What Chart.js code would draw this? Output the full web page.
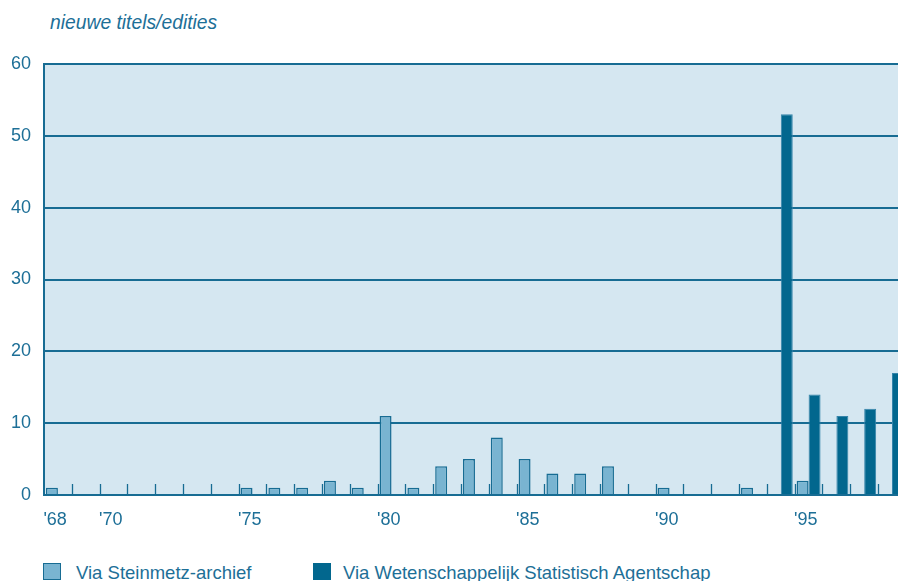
<!DOCTYPE html>
<html>
<head>
<meta charset="utf-8">
<script src="https://cdn.jsdelivr.net/npm/chart.js"></script>
<style>
  html, body { margin: 0; padding: 0; background: #ffffff; overflow: hidden; width: 898px; height: 581px; }
  body { position: relative; font-family: "Liberation Sans", Arial, sans-serif; color: #1d6f97; }
  #title { position: absolute; left: 50px; top: 13px; font-size: 19.3px; line-height: 19px; font-style: italic; white-space: nowrap; }
  #wrap { position: absolute; left: 0; top: 0; width: 906px; height: 545px; }
  .legend-box { position: absolute; top: 563px; width: 18px; height: 17px; box-sizing: border-box; }
  .legend-text { position: absolute; top: 563.5px; font-size: 18.5px; line-height: 18px; white-space: nowrap; }
</style>
</head>
<body>
<div id="title">nieuwe titels/edities</div>
<div id="wrap"><canvas id="chart"></canvas></div>
<div class="legend-box" id="box1" style="left:43px"></div>
<div class="legend-text" id="txt1" style="left:76px"></div>
<div class="legend-box" id="box2" style="left:313px"></div>
<div class="legend-text" id="txt2" style="left:343px"></div>
<script>
// years shown on the x axis (one bar group per year)
const years = [1968, 1969, 1970, 1971, 1972, 1973, 1974, 1975, 1976, 1977,
               1978, 1979, 1980, 1981, 1982, 1983, 1984, 1985, 1986, 1987,
               1988, 1989, 1990, 1991, 1992, 1993, 1994, 1995, 1996, 1997, 1998];
const xTickLabels = ["'68", '', "'70", '', '', '', '', "'75", '', '',
                     '', '', "'80", '', '', '', '', "'85", '', '',
                     '', '', "'90", '', '', '', '', "'95", '', '', ''];

const seriesNames = ['Via Steinmetz-archief', 'Via Wetenschappelijk Statistisch Agentschap'];
const steinmetz = [1, 0, 0, 0, 0, 0, 0, 1, 1, 1,
                   2, 1, 11, 1, 4, 5, 8, 5, 3, 3,
                   4, 0, 1, 0, 0, 1, 0, 2, 0, 0, 0];
const wsa = [0, 0, 0, 0, 0, 0, 0, 0, 0, 0,
             0, 0, 0, 0, 0, 0, 0, 0, 0, 0,
             0, 0, 0, 0, 0, 0, 53, 14, 11, 12, 17];

const yTicks = [0, 10, 20, 30, 40, 50, 60];

const lineColor = '#176c93';
const textColor = '#1d6f97';
const plotBg = '#d5e7f1';
const lightFill = '#79b4d1';
const darkFill = '#02678e';

document.getElementById('txt1').textContent = seriesNames[0];
document.getElementById('txt2').textContent = seriesNames[1];
document.getElementById('box1').style.cssText += ';background:' + lightFill + ';border:1.5px solid ' + lineColor;
document.getElementById('box2').style.cssText += ';background:' + darkFill;

// paint the plot area background
const plotBackground = {
  id: 'plotBackground',
  beforeDraw(chart) {
    const { ctx, chartArea } = chart;
    ctx.save();
    ctx.fillStyle = plotBg;
    ctx.fillRect(chartArea.left, chartArea.top, chartArea.right - chartArea.left, chartArea.bottom - chartArea.top);
    ctx.restore();
  }
};

// short tick marks between the years, pointing up into the plot
const innerTicks = {
  id: 'innerTicks',
  beforeDatasetsDraw(chart) {
    const { ctx, chartArea } = chart;
    const x = chart.scales.x;
    ctx.save();
    ctx.strokeStyle = lineColor;
    ctx.lineWidth = 1.3;
    for (let i = 1; i < years.length; i++) {
      const px = Math.round((x.getPixelForValue(i - 1) + x.getPixelForValue(i)) / 2) + 0.5;
      ctx.beginPath();
      ctx.moveTo(px, chartArea.bottom);
      ctx.lineTo(px, chartArea.bottom - 11);
      ctx.stroke();
    }
    ctx.restore();
  }
};

const ctx = document.getElementById('chart').getContext('2d');
new Chart(ctx, {
  type: 'bar',
  data: {
    labels: years,
    datasets: [
      {
        label: seriesNames[0],
        data: steinmetz,
        backgroundColor: lightFill,
        borderColor: lineColor,
        borderWidth: 1.5
      },
      {
        label: seriesNames[1],
        data: wsa,
        backgroundColor: darkFill,
        borderColor: '#3584aa',
        borderWidth: 1
      }
    ]
  },
  options: {
    responsive: true,
    maintainAspectRatio: false,
    animation: false,
    devicePixelRatio: 1,
    layout: {
      padding: { top: 64, left: 0, right: 0, bottom: 0 }
    },
    datasets: {
      bar: {
        categoryPercentage: 0.86,
        barPercentage: 1.0
      }
    },
    plugins: {
      legend: { display: false },
      tooltip: { enabled: false }
    },
    scales: {
      x: {
        offset: true,
        afterFit(scale) { scale.height = 50; },
        grid: {
          display: true,
          drawOnChartArea: false,
          drawTicks: false
        },
        border: {
          display: true,
          color: lineColor,
          width: 2
        },
        ticks: {
          autoSkip: false,
          maxRotation: 0,
          minRotation: 0,
          align: 'start',
          labelOffset: -14.5,
          padding: 14,
          color: textColor,
          font: { family: '"Liberation Sans", Arial, sans-serif', size: 18 },
          callback: function(value, index) {
            return xTickLabels[index];
          }
        }
      },
      y: {
        min: 0,
        max: 60,
        afterFit(scale) { scale.width = 44; },
        afterBuildTicks(scale) {
          scale.ticks = yTicks.map(v => ({ value: v }));
        },
        grid: {
          color: lineColor,
          lineWidth: 2,
          drawTicks: false
        },
        border: {
          display: true,
          color: lineColor,
          width: 2
        },
        ticks: {
          padding: 13,
          color: textColor,
          font: { family: '"Liberation Sans", Arial, sans-serif', size: 18 }
        }
      }
    }
  },
  plugins: [plotBackground, innerTicks]
});
</script>
</body>
</html>
